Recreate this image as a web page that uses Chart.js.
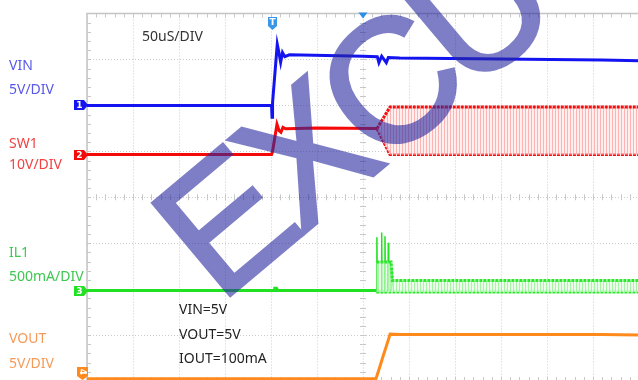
<!DOCTYPE html>
<html>
<head>
<meta charset="utf-8">
<script src="https://cdn.jsdelivr.net/npm/chart.js@4/dist/chart.umd.min.js"></script>
<style>
  html, body { margin: 0; padding: 0; background: #fff; }
  #wrap { position: relative; width: 638px; height: 380px; overflow: hidden; background: #fff; }
  #scope { position: absolute; left: 0; top: 0; }
  .txt { position: absolute; font-family: "Noto Sans", sans-serif; font-size: 14px; line-height: 20px; white-space: nowrap; }
</style>
</head>
<body>
<div id="wrap">
  <canvas id="scope" width="640" height="382"></canvas>
  <div class="txt" style="left:9px;top:55px;color:#5858e8">VIN</div>
  <div class="txt" style="left:9px;top:79px;color:#5858e8">5V/DIV</div>
  <div class="txt" style="left:9px;top:133px;color:#f04242">SW1</div>
  <div class="txt" style="left:9px;top:154px;color:#f04242">10V/DIV</div>
  <div class="txt" style="left:9px;top:242px;color:#3ec850">IL1</div>
  <div class="txt" style="left:9px;top:266px;color:#3ec850">500mA/DIV</div>
  <div class="txt" style="left:9px;top:328px;color:#f59a58">VOUT</div>
  <div class="txt" style="left:9px;top:353px;color:#f59a58">5V/DIV</div>
  <div class="txt" style="left:142px;top:26px;color:#333">50uS/DIV</div>
  <div class="txt" style="left:179px;top:299px;color:#222">VIN=5V</div>
  <div class="txt" style="left:179px;top:324px;color:#222">VOUT=5V</div>
  <div class="txt" style="left:179px;top:348px;color:#222">IOUT=100mA</div>
</div>
<script>
// Time base: 50 us per division, 12 divisions across the screen (0..600 us)
const timeDivUs = 50;
const timeDivs = 12;
const vertDivs = 8;

// CH1 VIN (V)
const vinT = [0, 200.6, 201.1, 201.7, 206.8, 208.5, 210.5, 212.5, 215, 220, 300, 315.5, 317.3, 320.3, 325.3, 327.5, 340, 450, 560, 600];
const vinV = [0, 0, -1.3, 0.3, 6.65, 5.8, 4.7, 5.75, 5.3, 5.5, 5.35, 5.3, 4.65, 5.35, 4.65, 5.2, 5.15, 5.05, 4.95, 4.85];

// CH2 SW1 (V): trace before switching, then switching envelope
const sw1T = [0, 200.6, 201.6, 206.5, 208.8, 210.8, 213, 216, 250, 315.2];
const sw1V = [0, 0, 0.6, 6.6, 5.2, 4.85, 5.9, 5.6, 5.75, 5.65];
const sw1EnvT = [315.2, 329.3, 600];
const sw1Hi = [5.65, 10.35, 10.35];
const sw1Lo = [5.65, 0, 0];

// CH3 IL1 (A): start-up spikes, then ripple envelope
const il1T = [0, 203.6, 204.1, 205.9, 206.4, 314.6, 315.1, 315.6, 319.8, 320.3, 320.8, 323.4, 323.9, 324.4, 327.1, 327.5, 328.0, 330.7, 331.2, 331.8];
const il1A = [0, 0, 0.025, 0.025, 0, 0, 0.58, -0.02, 0, 0.63, -0.02, 0, 0.59, -0.02, 0, 0.52, 0, 0, 0.23, 0.05];
const il1EnvT = [314.6, 330.5, 332, 600];
const il1Hi = [0.31, 0.31, 0.11, 0.11];
const il1Lo = [-0.015, -0.015, -0.015, -0.015];

// CH4 VOUT (V)
const voutT = [0, 314.1, 317, 322, 326.5, 329.5, 340, 450, 560, 600];
const voutV = [0, 0, 0.9, 2.5, 3.9, 4.85, 4.8, 4.82, 4.8, 4.75];

// Channel set-up: position (divisions from the bottom) and units per division
const channels = {
  1: { offset: 6.0,  perDiv: 5,   color: '#1414f0', label: '1' },
  2: { offset: 4.93, perDiv: 10,  color: '#f50a0a', label: '2' },
  3: { offset: 1.97, perDiv: 0.5, color: '#22e022', label: '3' },
  4: { offset: 0.05, perDiv: 5,   color: '#ff8a1c', label: '4' }
};
const triggerUs = 201;

function toDivPoints(ts, vs, ch) {
  const c = channels[ch];
  return ts.map((t, i) => ({ x: t, y: c.offset + vs[i] / c.perDiv }));
}

function stripePattern(stripe, base) {
  const p = document.createElement('canvas');
  p.width = 3; p.height = 4;
  const g = p.getContext('2d');
  g.fillStyle = base; g.fillRect(0, 0, 3, 4);
  g.fillStyle = stripe; g.fillRect(0, 0, 1, 4);
  return g.createPattern(p, 'repeat');
}

const lineBase = { borderWidth: 3, pointRadius: 0, tension: 0, fill: false };

const datasets = [
  // switching envelope of SW1
  Object.assign({}, lineBase, { data: toDivPoints(sw1EnvT, sw1Hi, 2), borderColor: '#f51010', borderDash: [3, 1], fill: '+1',
    backgroundColor: stripePattern('rgba(255,140,140,0.6)', 'rgba(255,232,232,0.7)') }),
  Object.assign({}, lineBase, { data: toDivPoints(sw1EnvT, sw1Lo, 2), borderColor: '#f51010', borderDash: [3, 1] }),
  Object.assign({}, lineBase, { data: toDivPoints(sw1T, sw1V, 2), borderColor: channels[2].color }),
  // ripple envelope of IL1
  Object.assign({}, lineBase, { data: toDivPoints(il1EnvT, il1Hi, 3), borderColor: '#2ee62e', borderDash: [3, 1], fill: '+1',
    backgroundColor: stripePattern('rgba(110,240,110,0.55)', 'rgba(228,252,228,0.7)') }),
  Object.assign({}, lineBase, { data: toDivPoints(il1EnvT, il1Lo, 3), borderColor: '#2ee62e', borderDash: [3, 1] }),
  Object.assign({}, lineBase, { data: toDivPoints(il1T, il1A, 3), borderColor: channels[3].color, borderWidth: 1.5 }),
  Object.assign({}, lineBase, { data: toDivPoints(il1T.slice(0, 6), il1A.slice(0, 6), 3), borderColor: channels[3].color }),
  // VOUT and VIN
  Object.assign({}, lineBase, { data: toDivPoints(voutT, voutV, 4), borderColor: channels[4].color }),
  Object.assign({}, lineBase, { data: toDivPoints(vinT, vinV, 1), borderColor: channels[1].color })
];

// Scope furniture: solid frame, minor ticks, channel tags, trigger marks, watermark
const scopePlugin = {
  id: 'scope',
  beforeDatasetsDraw(chart) {
    const { ctx, chartArea: a, scales: { x, y } } = chart;
    ctx.save();
    ctx.strokeStyle = '#c4c4c4';
    ctx.lineWidth = 1.5;
    ctx.beginPath();
    ctx.moveTo(a.left, a.bottom); ctx.lineTo(a.left, a.top); ctx.lineTo(a.right, a.top);
    ctx.stroke();
    ctx.lineWidth = 1;
    ctx.strokeStyle = '#c8c8c8';
    const cx = x.getPixelForValue(timeDivUs * timeDivs / 2);
    const cy = y.getPixelForValue(vertDivs / 2);
    ctx.beginPath();
    for (let i = 1; i < timeDivs * 5; i++) {
      const px = Math.round(x.getPixelForValue(i * timeDivUs / 5)) + 0.5;
      ctx.moveTo(px, a.top); ctx.lineTo(px, a.top + 4);
      ctx.moveTo(px, a.bottom); ctx.lineTo(px, a.bottom - 4);
      ctx.moveTo(px, cy - 3); ctx.lineTo(px, cy + 3);
    }
    for (let j = 1; j < vertDivs * 5; j++) {
      const py = Math.round(y.getPixelForValue(j / 5)) + 0.5;
      ctx.moveTo(a.left, py); ctx.lineTo(a.left + 4, py);
      ctx.moveTo(cx - 3, py); ctx.lineTo(cx + 3, py);
    }
    ctx.stroke();
    ctx.restore();
  },
  afterDatasetsDraw(chart) {
    const { ctx, chartArea: a, scales: { x, y } } = chart;
    ctx.save();
    // channel tags
    ctx.font = 'bold 9px "DejaVu Sans", sans-serif';
    ctx.textAlign = 'center';
    ctx.textBaseline = 'middle';
    [1, 2, 3].forEach(n => {
      const c = channels[n];
      const py = Math.round(y.getPixelForValue(c.offset));
      ctx.fillStyle = c.color;
      ctx.beginPath();
      ctx.moveTo(74, py - 5); ctx.lineTo(84, py - 5); ctx.lineTo(88, py);
      ctx.lineTo(84, py + 5); ctx.lineTo(74, py + 5); ctx.closePath();
      ctx.fill();
      ctx.fillStyle = '#fff';
      ctx.fillText(c.label, 79.5, py + 0.5);
    });
    const c4 = channels[4];
    ctx.fillStyle = c4.color;
    ctx.beginPath();
    ctx.moveTo(77, 367); ctx.lineTo(88, 367); ctx.lineTo(88, 376);
    ctx.lineTo(82.5, 380); ctx.lineTo(77, 376); ctx.closePath();
    ctx.fill();
    ctx.save();
    ctx.translate(82.5, 372);
    ctx.rotate(Math.PI / 2);
    ctx.fillStyle = '#fff';
    ctx.fillText(c4.label, 0, 0.5);
    ctx.restore();
    // trigger position mark
    const tx = Math.round(x.getPixelForValue(triggerUs)) + 0.5;
    ctx.fillStyle = '#3a96e6';
    ctx.beginPath();
    ctx.moveTo(tx - 4.5, 17); ctx.lineTo(tx + 4.5, 17); ctx.lineTo(tx + 4.5, 26);
    ctx.lineTo(tx, 30); ctx.lineTo(tx - 4.5, 26); ctx.closePath();
    ctx.fill();
    ctx.fillStyle = '#fff';
    ctx.fillText('T', tx, 22.5);
    // screen centre mark
    const mx = x.getPixelForValue(timeDivUs * timeDivs / 2);
    ctx.fillStyle = '#2c8ee4';
    ctx.beginPath();
    ctx.moveTo(mx - 4.5, a.top - 1); ctx.lineTo(mx + 4.5, a.top - 1); ctx.lineTo(mx, a.top + 5); ctx.closePath();
    ctx.fill();
    ctx.restore();
  },
  afterDraw(chart) {
    const { ctx, canvas } = chart;
    const off = document.createElement('canvas');
    off.width = canvas.width; off.height = canvas.height;
    const g = off.getContext('2d');
    // pivot on the lower corner of the first letter
    g.translate(230, 296);
    g.rotate(-40 * Math.PI / 180);
    g.font = '176px "Liberation Sans", sans-serif';
    g.letterSpacing = '-12px';
    g.fillStyle = '#2828a0';
    g.strokeStyle = '#2828a0';
    g.lineWidth = 3;
    g.fillText('EXCU', -14, 0);
    g.strokeText('EXCU', -14, 0);
    ctx.save();
    ctx.globalAlpha = 0.6;
    ctx.drawImage(off, 0, 0);
    ctx.restore();
  }
};

new Chart(document.getElementById('scope').getContext('2d'), {
  type: 'line',
  data: { datasets },
  options: {
    responsive: false,
    animation: false,
    events: [],
    layout: { padding: { left: 87, top: 13.5, right: 1, bottom: 1 } },
    plugins: { legend: { display: false }, tooltip: { enabled: false } },
    scales: {
      x: {
        type: 'linear', min: 0, max: timeDivUs * timeDivs,
        ticks: { display: false, stepSize: timeDivUs },
        grid: { color: '#cdcdcd', drawTicks: false, lineWidth: 1 },
        border: { display: false, dash: [1, 2] }
      },
      y: {
        type: 'linear', min: 0, max: vertDivs,
        ticks: { display: false, stepSize: 1 },
        grid: { color: '#cdcdcd', drawTicks: false, lineWidth: 1 },
        border: { display: false, dash: [1, 2] }
      }
    }
  },
  plugins: [scopePlugin]
});
</script>
</body>
</html>
